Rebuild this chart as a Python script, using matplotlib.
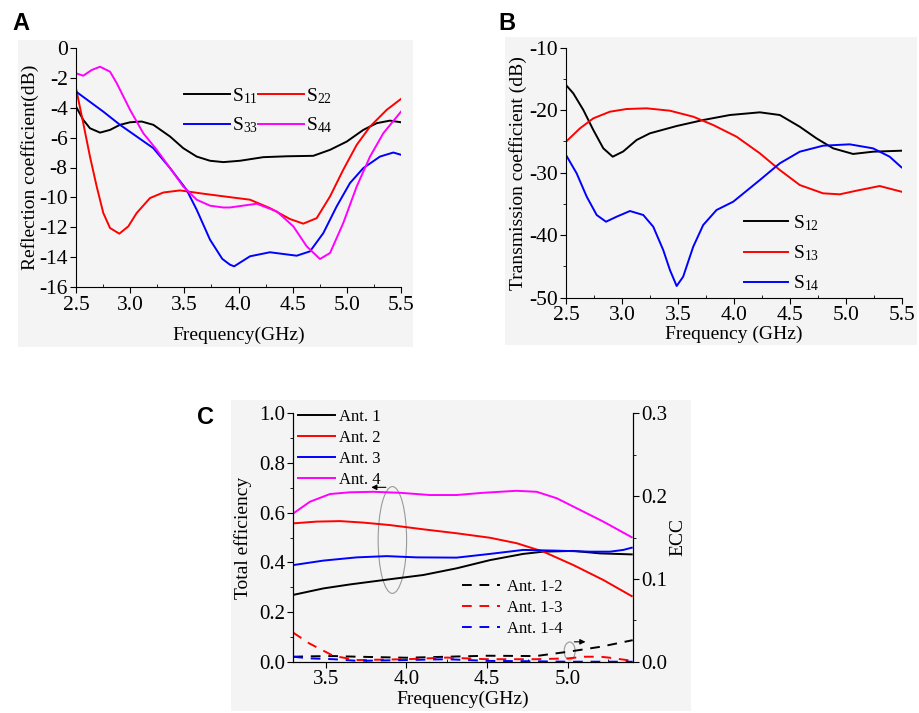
import matplotlib
matplotlib.use("Agg")
import matplotlib.pyplot as plt
from matplotlib.patches import Rectangle, Ellipse
import numpy as np

plt.rcParams['font.family'] = ['Liberation Serif', 'DejaVu Serif']
plt.rcParams['mathtext.fontset'] = 'custom'
plt.rcParams['mathtext.rm'] = 'Liberation Serif'
plt.rcParams['mathtext.default'] = 'regular'

# ---- panel A: reflection coefficients (dB)
fA_s11 = [2.5, 2.567, 2.629, 2.722, 2.814, 2.906, 2.999, 3.106, 3.214, 3.368, 3.49, 3.614, 3.737, 3.86, 4.014,
          4.229, 4.45, 4.69, 4.845, 4.999, 5.152, 5.276, 5.398, 5.5]
s11 = [-3.93, -4.82, -5.38, -5.67, -5.49, -5.15, -4.98, -4.93, -5.15, -5.93, -6.71, -7.27, -7.55, -7.64, -7.55,
       -7.31, -7.25, -7.22, -6.82, -6.27, -5.49, -5.04, -4.87, -4.98]
fA_s22 = [2.5, 2.567, 2.629, 2.691, 2.752, 2.814, 2.9, 2.983, 3.06, 3.183, 3.306, 3.46, 3.675, 3.921, 4.106,
          4.29, 4.475, 4.598, 4.722, 4.845, 4.967, 5.091, 5.214, 5.368, 5.5]
s22 = [-2.71, -5.04, -7.27, -9.27, -11.04, -12.04, -12.42, -11.93, -11.04, -10.04, -9.67, -9.53, -9.75, -9.98, -10.15,
       -10.71, -11.44, -11.75, -11.38, -9.93, -8.15, -6.49, -5.27, -4.15, -3.42]
fA_s33 = [2.5, 2.752, 2.906, 3.06, 3.214, 3.368, 3.521, 3.614, 3.737, 3.85, 3.921, 3.96, 4.106, 4.29, 4.537,
          4.66, 4.783, 4.906, 5.029, 5.152, 5.306, 5.429, 5.5]
s33 = [-2.93, -4.27, -5.15, -5.93, -6.71, -8.04, -9.49, -10.82, -12.82, -14.1, -14.49, -14.6, -13.93, -13.66, -13.89,
       -13.6, -12.38, -10.6, -9.04, -8.04, -7.27, -7.0, -7.15]
fA_s44 = [2.5, 2.567, 2.645, 2.722, 2.814, 2.876, 2.999, 3.121, 3.245, 3.368, 3.49, 3.614, 3.737, 3.86, 3.921,
          4.168, 4.353, 4.506, 4.63, 4.752, 4.845, 4.967, 5.091, 5.214, 5.337, 5.5]
s44 = [-1.71, -1.87, -1.49, -1.27, -1.6, -2.37, -4.15, -5.71, -6.82, -8.04, -9.27, -10.15, -10.55, -10.67, -10.67,
       -10.42, -10.93, -11.93, -13.27, -14.11, -13.71, -11.71, -9.27, -7.27, -5.71, -4.27]

# ---- panel B: transmission coefficients (dB)
fB_s12 = [2.5, 2.565, 2.655, 2.744, 2.833, 2.917, 3.011, 3.13, 3.249, 3.488, 3.725, 3.963, 4.231, 4.409, 4.587,
          4.736, 4.885, 5.063, 5.241, 5.495]
s12 = [-15.97, -17.3, -19.97, -23.17, -26.1, -27.44, -26.6, -24.77, -23.7, -22.53, -21.57, -20.77, -20.34, -20.77,
       -22.64, -24.5, -26.1, -27.0, -26.64, -26.48]
fB_s13 = [2.5, 2.625, 2.744, 2.892, 3.041, 3.22, 3.428, 3.636, 3.814, 4.023, 4.231, 4.409, 4.587, 4.795, 4.944,
          5.093, 5.301, 5.495]
s13 = [-25.04, -22.9, -21.3, -20.24, -19.81, -19.7, -20.08, -21.04, -22.37, -24.24, -26.9, -29.57, -31.97, -33.3,
       -33.46, -32.88, -32.13, -33.04]
fB_s14 = [2.5, 2.595, 2.685, 2.774, 2.857, 2.952, 3.071, 3.19, 3.279, 3.368, 3.428, 3.488, 3.546, 3.636, 3.725,
          3.844, 3.993, 4.231, 4.409, 4.587, 4.795, 5.033, 5.241, 5.39, 5.495]
s14 = [-27.17, -30.1, -33.84, -36.77, -37.84, -37.04, -36.13, -36.77, -38.64, -42.37, -45.57, -48.13, -46.64, -41.84,
       -38.37, -35.97, -34.64, -31.17, -28.5, -26.64, -25.68, -25.46, -26.1, -27.44, -29.14]

# ---- panel C: total efficiency (left axis) + ECC (right axis)
fC_ant1 = [3.3, 3.486, 3.65, 3.898, 4.104, 4.311, 4.517, 4.723, 4.847, 5.033, 5.198, 5.394]
eff1 = [0.269, 0.295, 0.311, 0.332, 0.349, 0.376, 0.409, 0.434, 0.443, 0.446, 0.436, 0.432]
fC_ant2 = [3.3, 3.445, 3.589, 3.733, 3.898, 4.104, 4.311, 4.517, 4.682, 4.847, 5.033, 5.218, 5.394]
eff2 = [0.557, 0.564, 0.566, 0.56, 0.55, 0.533, 0.517, 0.499, 0.477, 0.443, 0.389, 0.329, 0.264]
fC_ant3 = [3.3, 3.486, 3.692, 3.878, 4.064, 4.311, 4.517, 4.723, 4.93, 5.136, 5.26, 5.342, 5.394]
eff3 = [0.389, 0.407, 0.42, 0.425, 0.42, 0.419, 0.434, 0.45, 0.447, 0.443, 0.443, 0.45, 0.459]
fC_ant4 = [3.3, 3.403, 3.527, 3.65, 3.794, 3.96, 4.145, 4.31, 4.475, 4.681, 4.806, 4.93, 5.074, 5.218, 5.394]
eff4 = [0.597, 0.644, 0.675, 0.682, 0.684, 0.68, 0.671, 0.671, 0.68, 0.688, 0.684, 0.658, 0.611, 0.564, 0.501]
fC_ecc = [3.3, 3.4, 3.55, 3.7, 4.0, 4.25, 4.5, 4.8, 5.0, 5.1, 5.2, 5.25, 5.4]
ecc12 = [0.006, 0.0065, 0.0068, 0.006, 0.0048, 0.006, 0.0072, 0.0068, 0.012, 0.015, 0.018, 0.02, 0.026]
ecc13 = [0.035, 0.022, 0.0068, 0.002, 0.003, 0.005, 0.003, 0.003, 0.004, 0.006, 0.006, 0.005, 0.001]
ecc14 = [0.006, 0.004, 0.003, 0.001, 0.002, 0.003, 0.001, 0.0005, 0.0, 0.0, 0.0, 0.0, 0.0]

BG = '#f4f4f4'
W, H = 919, 713
fig = plt.figure(figsize=(W / 100, H / 100), dpi=100)

def px(x0, y0, x1, y1):
    # pixel box -> figure fraction [left, bottom, width, height]
    return [x0 / W, 1 - y1 / H, (x1 - x0) / W, (y1 - y0) / H]

for box in [(18, 40, 413, 347), (505, 37, 917, 345), (231, 400, 691, 711)]:
    b = px(*box)
    fig.patches.append(Rectangle(b[:2], b[2], b[3], transform=fig.transFigure,
                                 facecolor=BG, edgecolor='none', zorder=-10))

def style(ax, right=False, tsize=15.5):
    ax.set_facecolor('none')
    ax.spines['top'].set_visible(False)
    if not right:
        ax.spines['right'].set_visible(False)
    ax.tick_params(which='major', direction='out', length=4, labelsize=tsize, pad=2)
    ax.tick_params(which='minor', direction='out', length=2.5)
    ax.tick_params(axis='x', which='minor', direction='in')

lw = 1.4

# Panel A
axA = fig.add_axes(px(76, 47.7, 401, 287.3))
style(axA)
axA.plot(fA_s11, s11, color='black', lw=lw, label='S$_{11}$')
axA.plot(fA_s22, s22, color='red', lw=lw, label='S$_{22}$')
axA.plot(fA_s33, s33, color='blue', lw=lw, label='S$_{33}$')
axA.plot(fA_s44, s44, color='magenta', lw=lw, label='S$_{44}$')
axA.set_xlim(2.5, 5.5)
axA.set_ylim(-16, 0)
axA.set_xticks(np.arange(2.5, 5.51, 0.5))
axA.set_xticks(np.arange(2.75, 5.5, 0.5), minor=True)
axA.set_yticks(np.arange(-16, 0.1, 2))
axA.set_yticklabels(['%d' % v for v in np.arange(-16, 0.1, 2)])
axA.set_xlabel('Frequency(GHz)', fontsize=14)
axA.set_ylabel('Reflection coefficient(dB)', fontsize=14)
axA.xaxis.set_label_coords(0.5, -0.166)
axA.yaxis.set_label_coords(-0.114, 0.5)
h, l = axA.get_legend_handles_labels()
axA.legend([h[0], h[2], h[1], h[3]], [l[0], l[2], l[1], l[3]], ncol=2, frameon=False,
           fontsize=14, handlelength=2.37, handletextpad=0.1, columnspacing=0.0,
           labelspacing=0.5, borderpad=0, borderaxespad=0,
           loc='upper left', bbox_to_anchor=(0.332, 0.84))

# Panel B
axB = fig.add_axes(px(566, 47.7, 902, 297.7))
style(axB)
axB.plot(fB_s12, s12, color='black', lw=lw, label='S$_{12}$')
axB.plot(fB_s13, s13, color='red', lw=lw, label='S$_{13}$')
axB.plot(fB_s14, s14, color='blue', lw=lw, label='S$_{14}$')
axB.set_xlim(2.5, 5.5)
axB.set_ylim(-50, -10)
axB.set_xticks(np.arange(2.5, 5.51, 0.5))
axB.set_xticks(np.arange(2.75, 5.5, 0.5), minor=True)
axB.set_yticks(np.arange(-50, -9, 10))
axB.set_yticklabels(['%d' % v for v in np.arange(-50, -9, 10)])
axB.set_yticks(np.arange(-45, -10, 10), minor=True)
axB.set_xlabel('Frequency (GHz)', fontsize=14)
axB.set_ylabel('Transmission coefficient (dB)', fontsize=14)
axB.xaxis.set_label_coords(0.5, -0.113)
axB.yaxis.set_label_coords(-0.116, 0.5)
axB.legend(frameon=False, fontsize=14, handlelength=2.27, handletextpad=0.26,
           labelspacing=0.55, borderpad=0, borderaxespad=0,
           loc='upper left', bbox_to_anchor=(0.53, 0.339))

# Panel C
axC = fig.add_axes(px(293.3, 413.3, 632.7, 661.7))
style(axC, right=True, tsize=15)
axC.plot(fC_ant1, eff1, color='black', lw=lw, label='Ant. 1')
axC.plot(fC_ant2, eff2, color='red', lw=lw, label='Ant. 2')
axC.plot(fC_ant3, eff3, color='blue', lw=lw, label='Ant. 3')
axC.plot(fC_ant4, eff4, color='magenta', lw=lw, label='Ant. 4')
axC.set_xlim(3.3, 5.4)
axC.set_ylim(0, 1.0)
axC.set_xticks([3.5, 4.0, 4.5, 5.0])
axC.set_xticks([3.75, 4.25, 4.75, 5.25], minor=True)
axC.set_yticks(np.arange(0, 1.01, 0.2))
axC.set_yticks(np.arange(0.1, 1.0, 0.2), minor=True)
axC.set_xlabel('Frequency(GHz)', fontsize=14)
axC.set_ylabel('Total efficiency', fontsize=14)
axC.xaxis.set_label_coords(0.5, -0.118)
axC.yaxis.set_label_coords(-0.122, 0.5)
axC.legend(frameon=False, fontsize=12, handlelength=2.2, handletextpad=0.24,
           labelspacing=0.3, borderpad=0, borderaxespad=0,
           loc='upper left', bbox_to_anchor=(0.014, 1.017))

axC2 = axC.twinx()
axC2.set_facecolor('none')
axC2.spines['top'].set_visible(False)
dash = (0, (5, 4))
axC2.plot(fC_ecc, ecc12, color='black', lw=lw, ls=dash, label='Ant. 1-2')
axC2.plot(fC_ecc, ecc13, color='red', lw=lw, ls=dash, label='Ant. 1-3')
axC2.plot(fC_ecc, ecc14, color='blue', lw=lw, ls=dash, label='Ant. 1-4')
axC2.set_ylim(0, 0.3)
axC2.set_yticks([0.0, 0.1, 0.2, 0.3])
axC2.set_yticks([0.05, 0.15, 0.25], minor=True)
axC2.tick_params(which='major', direction='out', length=4, labelsize=15, pad=2)
axC2.tick_params(which='minor', direction='out', length=2.5)
axC2.set_ylabel('ECC', fontsize=14)
axC2.yaxis.set_label_coords(1.107, 0.5)
axC2.legend(frameon=False, fontsize=12, handlelength=2.3, handletextpad=0.42,
            labelspacing=0.3, borderpad=0, borderaxespad=0,
            loc='upper left', bbox_to_anchor=(0.496, 0.333))

# ellipse + arrow annotations
axC.add_patch(Ellipse((3.913, 0.49), 0.176, 0.43, fill=False, ec='#999999', lw=0.8))
axC.annotate('', xy=(3.765, 0.702), xytext=(3.89, 0.702),
             arrowprops=dict(arrowstyle='-|>', color='black', lw=0.8, mutation_scale=8))
axC2.add_patch(Ellipse((5.01, 0.0129), 0.068, 0.0217, fill=False, ec='#999999', lw=0.8))
axC2.annotate('', xy=(5.125, 0.024), xytext=(5.022, 0.024),
              arrowprops=dict(arrowstyle='-|>', color='black', lw=0.8, mutation_scale=8))

# panel letters
for s, x, y in [('A', 12, 24), ('B', 498, 24), ('C', 197, 417)]:
    fig.text(x / W, 1 - y / H, s, fontsize=17, fontweight='bold',
             family='Liberation Sans', va='center', ha='left')

fig.savefig('out.png', dpi=100)
